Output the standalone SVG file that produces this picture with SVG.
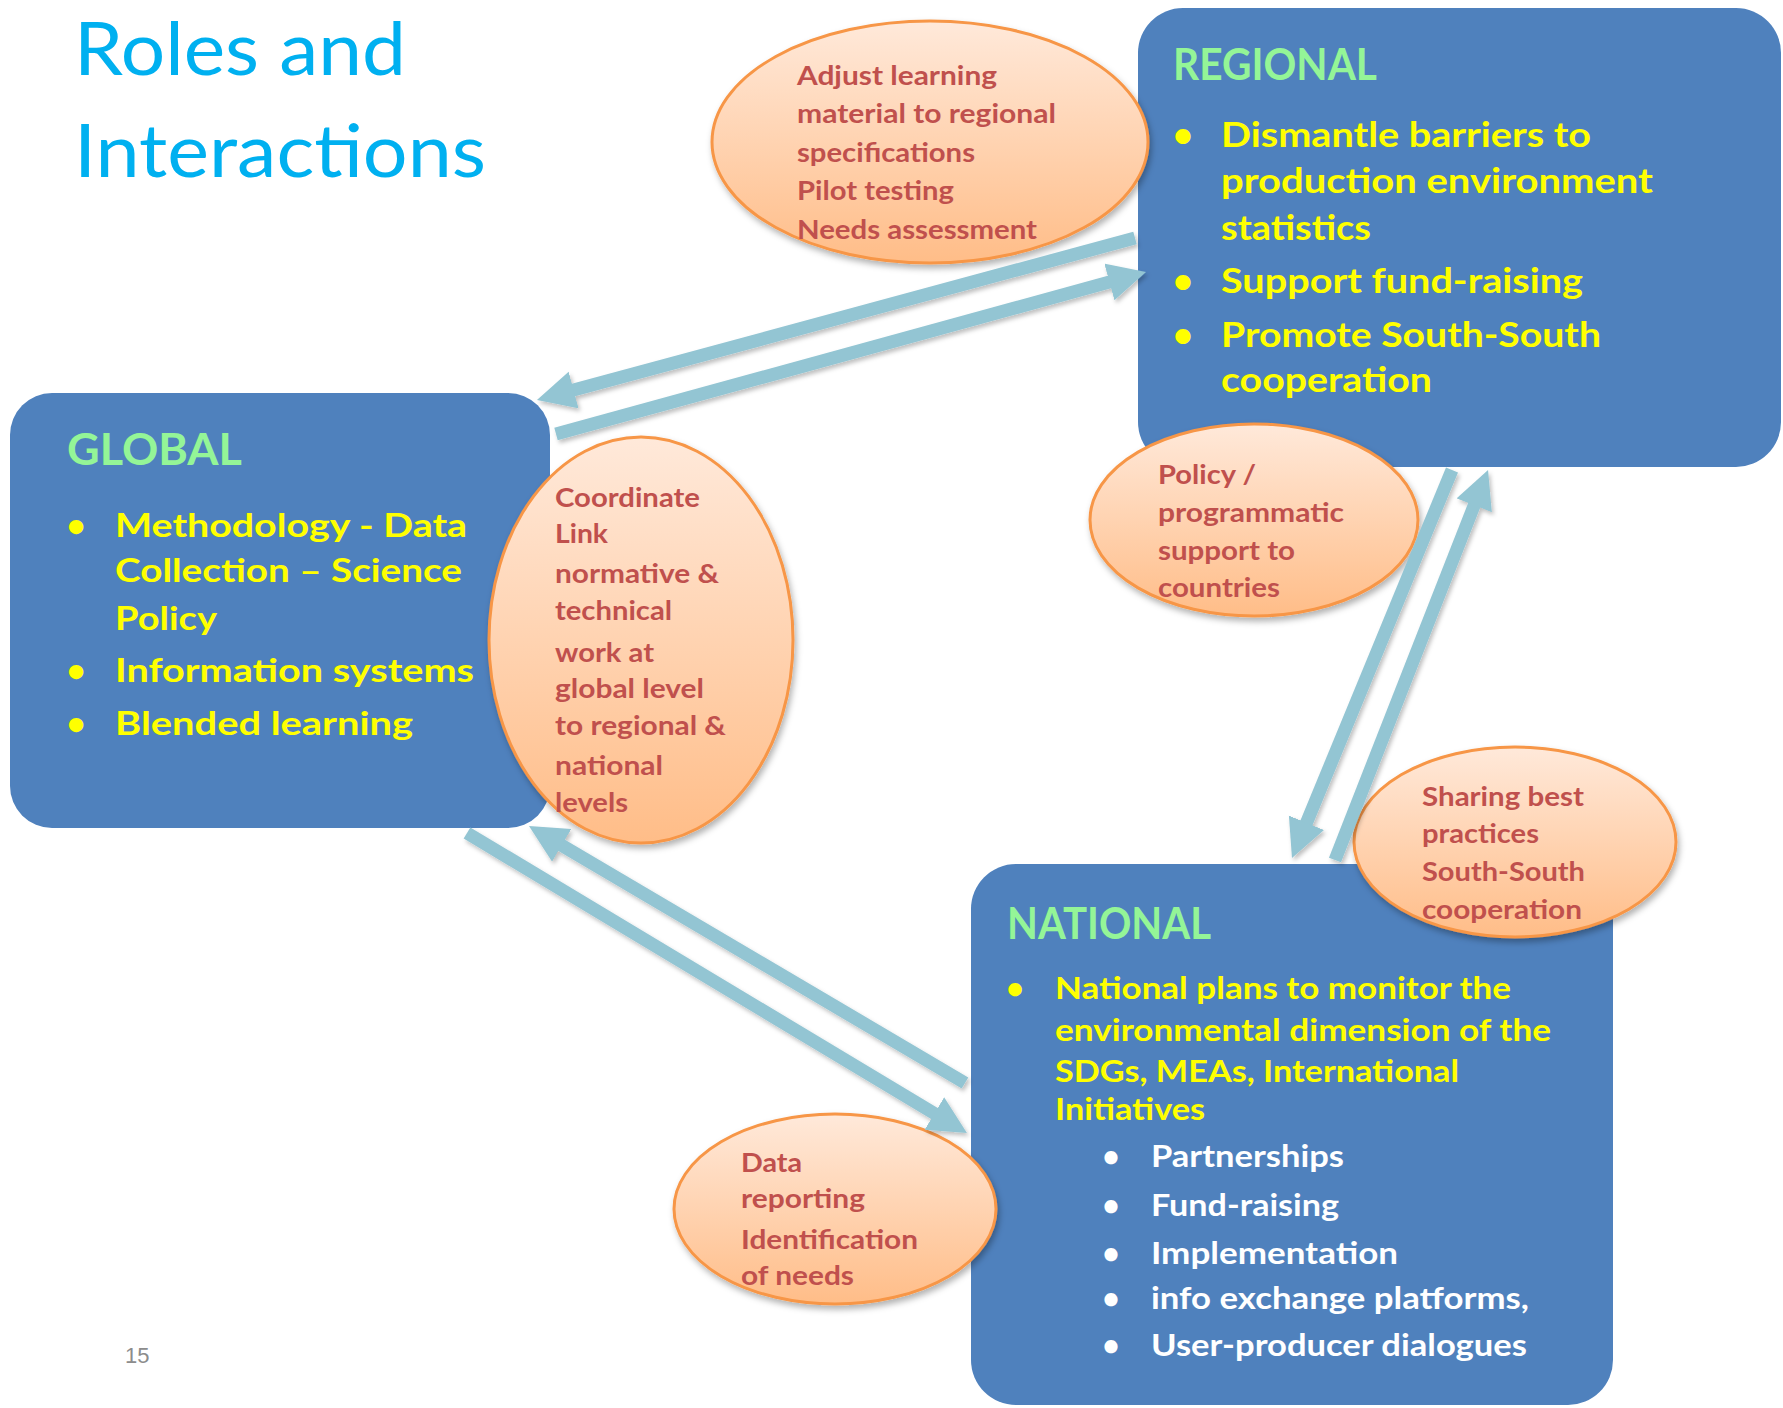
<svg xmlns="http://www.w3.org/2000/svg" width="1783" height="1408" viewBox="0 0 1783 1408">
<defs>
<linearGradient id="peach" x1="0" y1="0" x2="0" y2="1">
<stop offset="0" stop-color="#FFE9DA"/>
<stop offset="1" stop-color="#FFBD88"/>
</linearGradient>
<filter id="esh" x="-20%" y="-20%" width="140%" height="150%">
<feDropShadow dx="2" dy="4" stdDeviation="3" flood-color="#000" flood-opacity="0.3"/>
</filter>
<filter id="ash" x="-20%" y="-20%" width="140%" height="140%">
<feDropShadow dx="2" dy="3" stdDeviation="2" flood-color="#000" flood-opacity="0.25"/>
</filter>
<marker id="head" markerUnits="userSpaceOnUse" markerWidth="40" markerHeight="40" refX="2" refY="19" orient="auto">
<path d="M0,0 L38,19 L0,38 z" fill="#93C5D3"/>
</marker>
</defs>
<style>
.box{fill:#4F81BD}
.ell{fill:url(#peach);stroke:#F79646;stroke-width:3}
.t{font-family:Lato,"Open Sans","Liberation Sans",sans-serif;font-weight:700}
.hd{fill:#94F597;font-size:44px}
.y{fill:#FFFF00}
.w{fill:#FFFFFF}
.r{fill:#C0504D;font-size:26px}
.title{font-family:Lato,"Open Sans","Liberation Sans",sans-serif;font-weight:400;fill:#00B0F0;font-size:74px}
.arr line{stroke:#93C5D3;stroke-width:13;marker-end:url(#head)}
</style>
<rect width="1783" height="1408" fill="#FFFFFF"/>

<g id="title">
<text class="title" x="74" y="75" textLength="332" lengthAdjust="spacingAndGlyphs">Roles and</text>
<text class="title" x="74" y="177" textLength="412" lengthAdjust="spacingAndGlyphs">Interactions</text>
</g>

<g id="global">
<rect class="box" x="10" y="393" width="540" height="435" rx="42"/>
<text class="t hd" x="67" y="465" textLength="175" lengthAdjust="spacingAndGlyphs">GLOBAL</text>
<g class="t y" font-size="33">
<text x="76" y="537" text-anchor="middle">•</text>
<text x="115" y="537" textLength="352" lengthAdjust="spacingAndGlyphs">Methodology - Data</text>
<text x="115" y="582" textLength="347" lengthAdjust="spacingAndGlyphs">Collection – Science</text>
<text x="115" y="630" textLength="102" lengthAdjust="spacingAndGlyphs">Policy</text>
<text x="76" y="682" text-anchor="middle">•</text>
<text x="115" y="682" textLength="359" lengthAdjust="spacingAndGlyphs">Information systems</text>
<text x="76" y="735" text-anchor="middle">•</text>
<text x="115" y="735" textLength="298" lengthAdjust="spacingAndGlyphs">Blended learning</text>
</g>
</g>

<g id="regional">
<rect class="box" x="1138" y="8" width="643" height="459" rx="45"/>
<text class="t hd" x="1173" y="80" textLength="204" lengthAdjust="spacingAndGlyphs">REGIONAL</text>
<g class="t y" font-size="35">
<text x="1183" y="147" text-anchor="middle">•</text>
<text x="1221" y="147" textLength="370" lengthAdjust="spacingAndGlyphs">Dismantle barriers to</text>
<text x="1221" y="193" textLength="432" lengthAdjust="spacingAndGlyphs">production environment</text>
<text x="1221" y="240" textLength="150" lengthAdjust="spacingAndGlyphs">statistics</text>
<text x="1183" y="293" text-anchor="middle">•</text>
<text x="1221" y="293" textLength="362" lengthAdjust="spacingAndGlyphs">Support fund-raising</text>
<text x="1183" y="347" text-anchor="middle">•</text>
<text x="1221" y="347" textLength="380" lengthAdjust="spacingAndGlyphs">Promote South-South</text>
<text x="1221" y="392" textLength="211" lengthAdjust="spacingAndGlyphs">cooperation</text>
</g>
</g>

<g id="national">
<rect class="box" x="971" y="864" width="642" height="541" rx="45"/>
<text class="t hd" x="1007" y="939" textLength="204" lengthAdjust="spacingAndGlyphs">NATIONAL</text>
<g class="t y" font-size="31">
<text x="1015" y="999" text-anchor="middle">•</text>
<text x="1055" y="999" textLength="456" lengthAdjust="spacingAndGlyphs">National plans to monitor the</text>
<text x="1055" y="1041" textLength="496" lengthAdjust="spacingAndGlyphs">environmental dimension of the</text>
<text x="1055" y="1082" textLength="404" lengthAdjust="spacingAndGlyphs">SDGs, MEAs, International</text>
<text x="1055" y="1120" textLength="150" lengthAdjust="spacingAndGlyphs">Initiatives</text>
</g>
<g class="t w" font-size="30">
<text x="1111" y="1167" text-anchor="middle">•</text>
<text x="1151" y="1167" textLength="193" lengthAdjust="spacingAndGlyphs">Partnerships</text>
<text x="1111" y="1216" text-anchor="middle">•</text>
<text x="1151" y="1216" textLength="188" lengthAdjust="spacingAndGlyphs">Fund-raising</text>
<text x="1111" y="1264" text-anchor="middle">•</text>
<text x="1151" y="1264" textLength="247" lengthAdjust="spacingAndGlyphs">Implementation</text>
<text x="1111" y="1309" text-anchor="middle">•</text>
<text x="1151" y="1309" textLength="378" lengthAdjust="spacingAndGlyphs">info exchange platforms,</text>
<text x="1111" y="1356" text-anchor="middle">•</text>
<text x="1151" y="1356" textLength="376" lengthAdjust="spacingAndGlyphs">User-producer dialogues</text>
</g>
</g>

<g id="adjust">
<ellipse class="ell" cx="930" cy="142" rx="218" ry="121" filter="url(#esh)"/>
<g class="t r">
<text x="797" y="85" textLength="200" lengthAdjust="spacingAndGlyphs">Adjust learning</text>
<text x="797" y="123" textLength="259" lengthAdjust="spacingAndGlyphs">material to regional</text>
<text x="797" y="162" textLength="178" lengthAdjust="spacingAndGlyphs">specifications</text>
<text x="797" y="200" textLength="157" lengthAdjust="spacingAndGlyphs">Pilot testing</text>
<text x="797" y="239" textLength="240" lengthAdjust="spacingAndGlyphs">Needs assessment</text>
</g>
</g>

<g id="coordinate">
<ellipse class="ell" cx="641" cy="640" rx="152" ry="203" filter="url(#esh)"/>
<g class="t r">
<text x="555" y="507" textLength="145" lengthAdjust="spacingAndGlyphs">Coordinate</text>
<text x="555" y="543" textLength="53" lengthAdjust="spacingAndGlyphs">Link</text>
<text x="555" y="583" textLength="164" lengthAdjust="spacingAndGlyphs">normative &amp;</text>
<text x="555" y="620" textLength="117" lengthAdjust="spacingAndGlyphs">technical</text>
<text x="555" y="662" textLength="99" lengthAdjust="spacingAndGlyphs">work at</text>
<text x="555" y="698" textLength="149" lengthAdjust="spacingAndGlyphs">global level</text>
<text x="555" y="735" textLength="171" lengthAdjust="spacingAndGlyphs">to regional &amp;</text>
<text x="555" y="775" textLength="108" lengthAdjust="spacingAndGlyphs">national</text>
<text x="555" y="812" textLength="73" lengthAdjust="spacingAndGlyphs">levels</text>
</g>
</g>

<g id="policy">
<ellipse class="ell" cx="1254" cy="520" rx="164" ry="96" filter="url(#esh)"/>
<g class="t r">
<text x="1158" y="484" textLength="98" lengthAdjust="spacingAndGlyphs">Policy /</text>
<text x="1158" y="522" textLength="186" lengthAdjust="spacingAndGlyphs">programmatic</text>
<text x="1158" y="560" textLength="137" lengthAdjust="spacingAndGlyphs">support to</text>
<text x="1158" y="597" textLength="122" lengthAdjust="spacingAndGlyphs">countries</text>
</g>
</g>

<g id="sharing">
<ellipse class="ell" cx="1515" cy="842" rx="161" ry="95" filter="url(#esh)"/>
<g class="t r">
<text x="1422" y="806" textLength="162" lengthAdjust="spacingAndGlyphs">Sharing best</text>
<text x="1422" y="843" textLength="117" lengthAdjust="spacingAndGlyphs">practices</text>
<text x="1422" y="881" textLength="163" lengthAdjust="spacingAndGlyphs">South-South</text>
<text x="1422" y="919" textLength="160" lengthAdjust="spacingAndGlyphs">cooperation</text>
</g>
</g>

<g id="data">
<ellipse class="ell" cx="835" cy="1209" rx="161" ry="95" filter="url(#esh)"/>
<g class="t r">
<text x="741" y="1172" textLength="61" lengthAdjust="spacingAndGlyphs">Data</text>
<text x="741" y="1208" textLength="124" lengthAdjust="spacingAndGlyphs">reporting</text>
<text x="741" y="1249" textLength="177" lengthAdjust="spacingAndGlyphs">Identification</text>
<text x="741" y="1285" textLength="113" lengthAdjust="spacingAndGlyphs">of needs</text>
</g>
</g>

<g id="connectors" class="arr" filter="url(#ash)">
<line x1="1135" y1="238" x2="571.7" y2="390.6"/>
<line x1="556" y1="434" x2="1111.3" y2="281.5"/>
<line x1="467" y1="833" x2="936.1" y2="1114.5"/>
<line x1="965" y1="1083" x2="560" y2="844.3"/>
<line x1="1452" y1="470" x2="1305.7" y2="824.7"/>
<line x1="1335" y1="860" x2="1474.9" y2="503.5"/>
</g>

<text x="125" y="1363" font-family="Liberation Sans, Arial, sans-serif" font-size="22" fill="#8C8C8C">15</text>
</svg>
